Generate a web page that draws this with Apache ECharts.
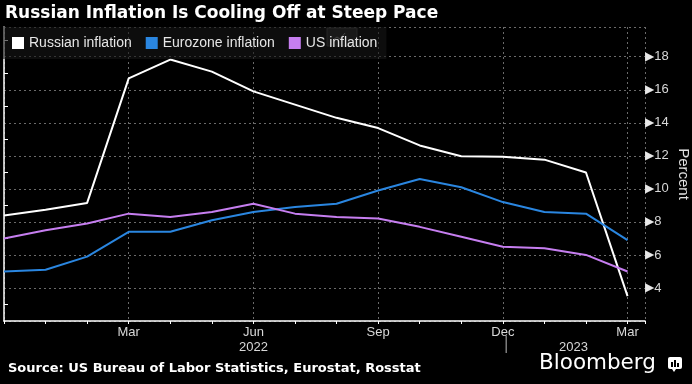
<!DOCTYPE html>
<html>
<head>
<meta charset="utf-8">
<script src="https://cdn.jsdelivr.net/npm/echarts@6/dist/echarts.min.js"></script>
<style>html,body{margin:0;padding:0;background:#000;}#c{width:692px;height:384px;}</style>
</head>
<body>
<div id="c"></div>
<script>
// Monthly observations, Dec 2021 .. Mar 2023
const months = ['Dec','Jan','Feb','Mar','Apr','May','Jun','Jul','Aug','Sep','Oct','Nov','Dec','Jan','Feb','Mar'];
const russia = [8.39, 8.73, 9.15, 16.69, 17.83, 17.1, 15.9, 15.1, 14.3, 13.68, 12.63, 11.98, 11.94, 11.77, 10.99, 3.51];
const eurozone = [5.0, 5.1, 5.9, 7.4, 7.4, 8.1, 8.6, 8.9, 9.1, 9.9, 10.6, 10.1, 9.2, 8.6, 8.5, 6.9];
const us = [7.0, 7.5, 7.9, 8.5, 8.3, 8.6, 9.1, 8.5, 8.3, 8.2, 7.7, 7.1, 6.5, 6.4, 6.0, 5.0];
const xLabelIdx = [3, 6, 9, 12, 15];
const yTicks = [4, 6, 8, 10, 12, 14, 16, 18];
const years = [{text: '2022', at: 6}, {text: '2023', at: 13.7}];

const toPairs = arr => arr.map((v, i) => [i, v]);
const LABEL_FONT = '"Liberation Sans", Arial, sans-serif';
const BOLD_FONT = '"DejaVu Sans", Verdana, sans-serif';

const chart = echarts.init(document.getElementById('c'), null, {renderer: 'canvas'});
const option = {
  backgroundColor: '#000',
  animation: false,
  title: {
    text: 'Russian Inflation Is Cooling Off at Steep Pace',
    left: 0, top: 0,
    textStyle: {color: '#fff', fontFamily: BOLD_FONT, fontWeight: 'bold', fontSize: 17}
  },
  legend: {
    left: 3, top: 27,
    padding: [9, 9, 9, 9],
    itemGap: 14, itemWidth: 12, itemHeight: 12,
    backgroundColor: 'rgba(22,22,22,0.6)',
    icon: 'rect',
    textStyle: {color: '#e6e6e6', fontFamily: LABEL_FONT, fontSize: 14},
    data: ['Russian inflation', 'Eurozone inflation', 'US inflation']
  },
  grid: {left: 4, right: 47, top: 27, bottom: 63, containLabel: false, outerBoundsMode: 'none'},
  xAxis: {
    type: 'value', min: 0, max: 15.42, interval: 3,
    axisLine: {show: true, lineStyle: {color: '#fff', width: 1.5}},
    axisTick: {show: true, length: 3, lineStyle: {color: '#fff'}},
    minorTick: {show: true, splitNumber: 3, length: 3, lineStyle: {color: '#fff'}},
    splitLine: {show: true, lineStyle: {color: '#6a6a6a', type: [2, 3], width: 1}},
    axisLabel: {
      color: '#d8d8d8', fontFamily: LABEL_FONT, fontSize: 13, margin: 5,
      showMinLabel: true, showMaxLabel: true,
      formatter: v => (xLabelIdx.indexOf(v) >= 0 ? months[v] : '')
    }
  },
  yAxis: {
    type: 'value', position: 'right', min: 2, max: 19.8, interval: 2,
    name: 'Percent', nameLocation: 'middle', nameRotate: -90, nameGap: 31, nameMoveOverlap: false,
    nameTextStyle: {color: '#e0e0e0', fontFamily: LABEL_FONT, fontSize: 15},
    axisLine: {show: true, lineStyle: {color: '#fff', width: 1.5}},
    axisTick: {show: false},
    minorTick: {show: true, splitNumber: 2, length: 4, lineStyle: {color: '#fff'}},
    splitLine: {show: true, lineStyle: {color: '#6a6a6a', type: [2, 3], width: 1}},
    axisLabel: {
      margin: 0, showMaxLabel: true,
      formatter: v => (yTicks.indexOf(v) >= 0 ? '{t|▶}{v|' + v + '}' : ''),
      rich: {
        t: {color: '#e8e8e8', fontSize: 12, fontFamily: BOLD_FONT},
        v: {color: '#d8d8d8', fontSize: 13, fontFamily: LABEL_FONT, padding: [0, 0, 0, 0]}
      }
    }
  },
  series: [
    {name: 'Russian inflation', type: 'line', data: toPairs(russia), showSymbol: false, symbol: 'none',
     itemStyle: {color: '#ffffff'}, lineStyle: {color: '#ffffff', width: 2}},
    {name: 'Eurozone inflation', type: 'line', data: toPairs(eurozone), showSymbol: false, symbol: 'none',
     itemStyle: {color: '#2a86e0'}, lineStyle: {color: '#2a86e0', width: 2}},
    {name: 'US inflation', type: 'line', data: toPairs(us), showSymbol: false, symbol: 'none',
     itemStyle: {color: '#c67ef0'}, lineStyle: {color: '#c67ef0', width: 2}}
  ]
};
chart.setOption(option);

const px = v => chart.convertToPixel({xAxisIndex: 0}, v);
const graphics = [
  {type: 'text', left: 8, top: 362,
   style: {text: 'Source: US Bureau of Labor Statistics, Eurostat, Rosstat', fill: '#fff',
           font: 'bold 13px ' + BOLD_FONT}},
  {type: 'text', left: 539, top: 352,
   style: {text: 'Bloomberg', fill: '#fff', font: '21.5px ' + BOLD_FONT}},
  {type: 'rect', shape: {x: 668, y: 357, width: 14, height: 12, r: 2}, style: {fill: '#fff'}},
  {type: 'polygon', shape: {points: [[672, 369], [676, 369], [674, 372]]}, style: {fill: '#fff'}},
  {type: 'rect', shape: {x: 671, y: 362, width: 2, height: 5}, style: {fill: '#000'}},
  {type: 'rect', shape: {x: 674, y: 360, width: 2, height: 7}, style: {fill: '#000'}},
  {type: 'rect', shape: {x: 677, y: 363, width: 2, height: 4}, style: {fill: '#000'}},
  {type: 'rect', shape: {x: 327, y: 28, width: 30, height: 18}, style: {fill: 'rgba(40,40,40,0.8)', stroke: '#3a3a3a'}},
  {type: 'polyline', shape: {points: [[333, 40], [337, 37], [340, 39], [345, 33]]}, style: {stroke: '#888', lineWidth: 1}},
  {type: 'line', shape: {x1: px(12.08), y1: 336, x2: px(12.08), y2: 353}, style: {stroke: '#bbb', lineWidth: 1}}
];
years.forEach(y => {
  graphics.push({type: 'text', x: px(y.at), y: 347,
    style: {text: y.text, fill: '#d8d8d8', font: '13px ' + LABEL_FONT, textAlign: 'center', textVerticalAlign: 'middle'}});
});
chart.setOption({graphic: graphics});
</script>
</body>
</html>
